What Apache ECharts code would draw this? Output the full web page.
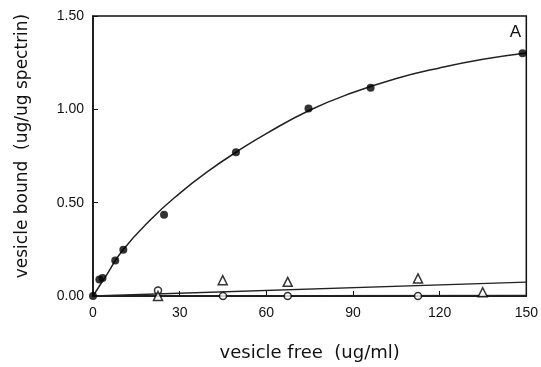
<!DOCTYPE html>
<html>
<head>
<meta charset="utf-8">
<script src="https://cdn.jsdelivr.net/npm/echarts@6/dist/echarts.min.js"></script>
<style>
  html, body { margin: 0; padding: 0; background: #fff; }
  #chart { width: 541px; height: 367px; }
</style>
</head>
<body>
<div id="chart"></div>
<script>
// x ticks / y ticks
var xTicks = [0, 30, 60, 90, 120, 150];
var yTicks = [0, 0.5, 1.0, 1.5];

// filled circles (bound vesicles)
var filledPts = [[0, 0], [2.2, 0.088], [3.3, 0.097], [7.7, 0.19], [10.5, 0.248],
  [24.6, 0.435], [49.5, 0.77], [74.6, 1.004], [96.1, 1.115], [148.7, 1.30]];
// fitted curve through filled circles
var fitCurve = [[0, 0], [5, 0.12], [10, 0.24], [20, 0.41], [30, 0.55], [40, 0.67],
  [50, 0.775], [60, 0.87], [75, 0.995], [90, 1.09], [105, 1.165], [120, 1.222],
  [135, 1.268], [150, 1.302]];
// open circles
var openPts = [[22.5, 0.03], [45, 0.0], [67.4, 0.0], [112.5, 0.0]];
var openLine = [[0, 0], [150, 0.003]];
// open triangles
var triPts = [[22.5, 0.0], [44.9, 0.085], [67.4, 0.076], [112.5, 0.094], [134.9, 0.02]];
var triLine = [[0, 0], [150, 0.074]];

var chart = echarts.init(document.getElementById('chart'));
var font = '"Liberation Sans", Arial, sans-serif';
var nameFont = '"DejaVu Sans", sans-serif';

chart.setOption({
  animation: false,
  backgroundColor: '#fff',
  grid: {
    left: 93, right: 13, top: 16, bottom: 67,
    show: true, borderColor: '#111', borderWidth: 1.5, backgroundColor: 'transparent'
  },
  xAxis: {
    type: 'value',
    min: xTicks[0], max: xTicks[xTicks.length - 1], interval: 30,
    name: 'vesicle free  (ug/ml)',
    nameLocation: 'middle', nameGap: 48,
    nameTextStyle: { fontFamily: nameFont, fontSize: 18, color: '#111' },
    axisLine: { lineStyle: { color: '#111', width: 1.5 } },
    axisTick: { inside: true, length: 5, lineStyle: { color: '#111' } },
    axisLabel: { fontFamily: font, fontSize: 14, color: '#111', margin: 10 },
    splitLine: { show: false }
  },
  yAxis: {
    type: 'value',
    min: yTicks[0], max: yTicks[yTicks.length - 1], interval: 0.5,
    axisLine: { lineStyle: { color: '#111', width: 1.5 } },
    axisTick: { inside: true, length: 5, lineStyle: { color: '#111' } },
    axisLabel: {
      fontFamily: font, fontSize: 14, color: '#111', margin: 9,
      formatter: function (v) { return v.toFixed(2); }
    },
    splitLine: { show: false }
  },
  graphic: [
    {
      type: 'text', right: 20, top: 24,
      style: { text: 'A', fontFamily: font, fontSize: 17, fill: '#111' }
    },
    {
      type: 'text', x: 23, y: 146, rotation: Math.PI / 2,
      style: {
        text: 'vesicle bound  (ug/ug spectrin)', fontFamily: nameFont, fontSize: 17,
        fill: '#111', align: 'center', verticalAlign: 'middle'
      }
    }
  ],
  series: [
    {
      type: 'line', data: fitCurve, smooth: 0.5, symbol: 'none',
      lineStyle: { color: '#222', width: 1.5 }, z: 2
    },
    {
      type: 'line', data: triLine, symbol: 'none',
      lineStyle: { color: '#222', width: 1.3 }, z: 2
    },
    {
      type: 'line', data: openLine, symbol: 'none',
      lineStyle: { color: '#222', width: 1.3 }, z: 2
    },
    {
      type: 'scatter', data: filledPts, symbol: 'circle', symbolSize: 8,
      itemStyle: { color: '#000' }, z: 4
    },
    {
      type: 'scatter', data: openPts, symbol: 'circle', symbolSize: 7,
      itemStyle: { color: '#fff', borderColor: '#000', borderWidth: 1.5 }, z: 4
    },
    {
      type: 'scatter', data: triPts, symbol: 'triangle', symbolSize: 9,
      itemStyle: { color: '#fff', borderColor: '#000', borderWidth: 1.5 }, z: 4
    }
  ]
});
</script>
</body>
</html>
